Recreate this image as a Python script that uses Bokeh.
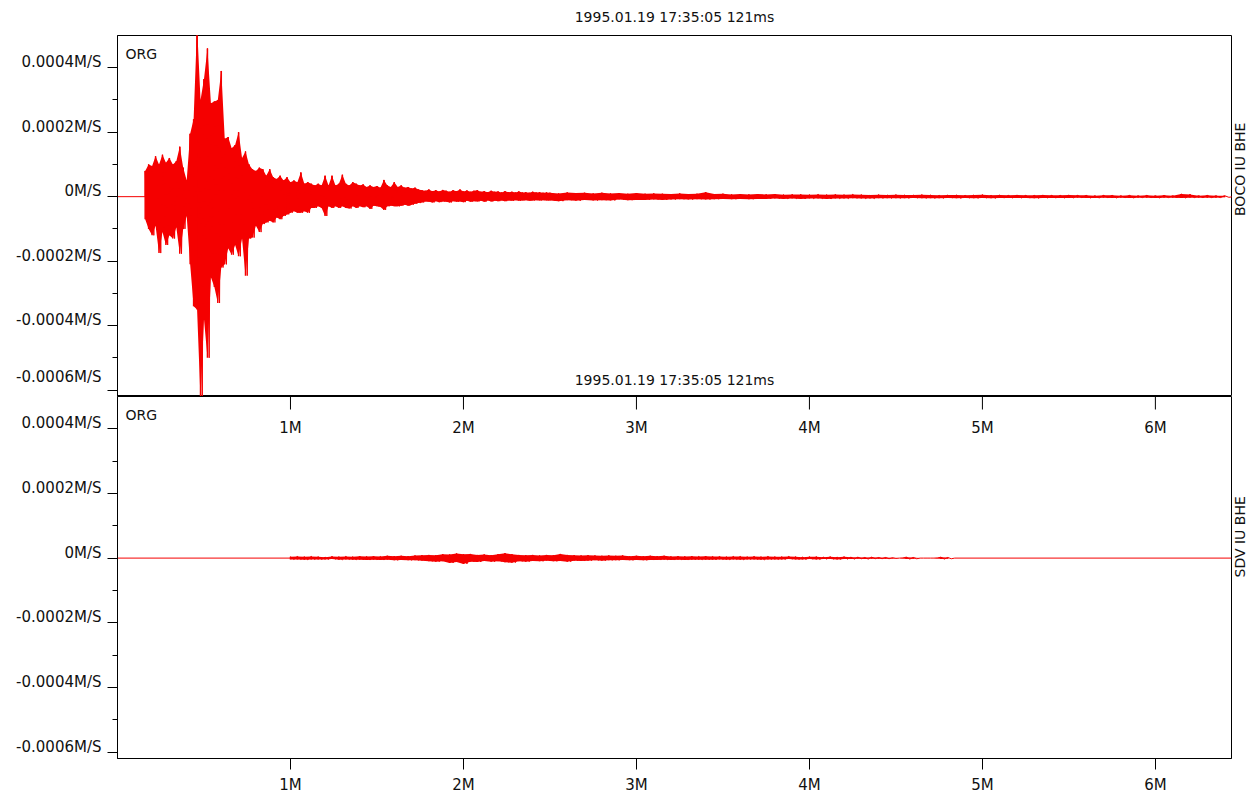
import numpy as np
from math import pi
from bokeh.plotting import figure
from bokeh.layouts import column
from bokeh.models import (Range1d, FixedTicker, Label, LinearAxis,
                          CustomJSTickFormatter, ColumnDataSource)
from bokeh.core.properties import value
from bokeh.embed import file_html
from bokeh.resources import INLINE

# ---------------- texts ----------------
start_time = "1995.01.19 17:35:05 121ms"
channels = ["BOCO IU BHE", "SDV IU BHE"]
proc_tag = "ORG"

# ---------------- axes ----------------
x_ticks = [1, 2, 3, 4, 5, 6]
x_tick_labels = ["1M", "2M", "3M", "4M", "5M", "6M"]
y_ticks = [-6e-4, -4e-4, -2e-4, 0.0, 2e-4, 4e-4]
y_tick_labels = ["-0.0006M/S", "-0.0004M/S", "-0.0002M/S", "0M/S", "0.0002M/S", "0.0004M/S"]
y_minor = [-6e-4, -5e-4, -4e-4, -3e-4, -2e-4, -1e-4, 0.0, 1e-4, 2e-4, 3e-4, 4e-4]
x_span = (0.0, 6.44)          # minutes
y_span = (-6.2e-4, 5.0e-4)    # M/S
amp_unit = 1e-4               # amplitudes below are given in 1e-4 M/S

# ---------------- BOCO IU BHE: peak envelope read per sample ----------------
boco_a_t0, boco_a_dt = 0.16, 0.02
boco_a_hi = [0.8, 1.0, 0.95, 1.25, 1.0, 1.3, 1.05, 1.2, 1.0, 1.1,
             1.55, 0.9, 0.5, 1.95, 2.4, 5.3, 3.0, 3.65, 4.6, 2.9,
             2.95, 3.0, 3.9, 1.8, 1.85, 1.5, 1.6, 2.0, 1.2, 1.4,
             1.0, 0.85, 0.8, 0.9, 0.85, 0.65, 0.85, 0.6, 0.55, 0.65,
             0.5, 0.6, 0.45, 0.5, 0.45, 0.75, 0.4, 0.45, 0.4, 0.35,
             0.4, 0.35, 0.65, 0.35, 0.65, 0.35, 0.4, 0.68, 0.4, 0.35,
             0.45, 0.4, 0.35, 0.38, 0.3, 0.35, 0.3, 0.33, 0.28, 0.52,
             0.35, 0.3, 0.45, 0.3, 0.35, 0.28, 0.3, 0.25, 0.28, 0.22,
             0.2, 0.18, 0.22, 0.17, 0.2, 0.16, 0.21, 0.18, 0.15, 0.2,
             0.17, 0.22, 0.16, 0.19, 0.15, 0.18, 0.2, 0.15, 0.17, 0.14,
             0.18, 0.15, 0.16, 0.13, 0.17, 0.14, 0.15, 0.13, 0.16, 0.13,
             0.14, 0.12, 0.15, 0.13, 0.14, 0.12, 0.13]
boco_a_lo = [-0.7, -1.0, -1.2, -0.9, -1.75, -1.1, -1.5, -1.2, -1.3, -0.95,
             -1.77, -1.0, -0.6, -2.1, -3.4, -3.5, -6.3, -3.8, -5.0, -2.5,
             -2.8, -3.3, -2.2, -2.1, -1.6, -1.8, -1.5, -1.85, -1.3, -2.45,
             -1.3, -1.27, -0.9, -1.1, -0.85, -0.8, -0.75, -0.8, -0.65, -0.7,
             -0.6, -0.55, -0.5, -0.45, -0.5, -0.5, -0.45, -0.5, -0.35, -0.35,
             -0.3, -0.35, -0.6, -0.3, -0.35, -0.3, -0.35, -0.3, -0.35, -0.37,
             -0.3, -0.35, -0.3, -0.33, -0.3, -0.38, -0.28, -0.3, -0.32, -0.41,
             -0.3, -0.28, -0.3, -0.3, -0.28, -0.25, -0.28, -0.25, -0.22, -0.2,
             -0.18, -0.15, -0.16, -0.18, -0.14, -0.17, -0.15, -0.16, -0.18, -0.14,
             -0.16, -0.15, -0.17, -0.13, -0.16, -0.14, -0.15, -0.13, -0.16, -0.12,
             -0.15, -0.13, -0.14, -0.12, -0.14, -0.12, -0.13, -0.11, -0.13, -0.12,
             -0.11, -0.13, -0.12, -0.11, -0.12, -0.11, -0.12]
boco_b_t0, boco_b_dt = 2.50, 0.05
boco_b_hi = [0.12, 0.1, 0.13, 0.11, 0.12, 0.1, 0.12, 0.1, 0.11, 0.09,
             0.11, 0.09, 0.1, 0.09, 0.08, 0.1, 0.08, 0.09, 0.14, 0.08,
             0.09, 0.07, 0.08, 0.07, 0.08, 0.07, 0.08, 0.06, 0.07, 0.07,
             0.06, 0.07, 0.06, 0.07, 0.06, 0.07, 0.06, 0.05, 0.06, 0.05,
             0.06, 0.05, 0.05, 0.06, 0.05, 0.04, 0.05, 0.05, 0.04, 0.05,
             0.06, 0.04, 0.05, 0.04, 0.05, 0.04, 0.04, 0.05, 0.04, 0.04,
             0.05, 0.04, 0.04, 0.03, 0.04, 0.04, 0.03, 0.04, 0.03, 0.04,
             0.03, 0.04, 0.03, 0.08, 0.07, 0.03, 0.04, 0.03, 0.03]
boco_b_lo = [-0.12, -0.14, -0.11, -0.13, -0.1, -0.12, -0.11, -0.12, -0.09, -0.11,
             -0.1, -0.1, -0.09, -0.1, -0.09, -0.08, -0.09, -0.08, -0.09, -0.08,
             -0.07, -0.08, -0.07, -0.08, -0.07, -0.07, -0.06, -0.07, -0.06, -0.07,
             -0.06, -0.06, -0.07, -0.06, -0.06, -0.05, -0.06, -0.06, -0.05, -0.05,
             -0.05, -0.05, -0.04, -0.05, -0.05, -0.05, -0.04, -0.05, -0.04, -0.05,
             -0.04, -0.05, -0.04, -0.04, -0.04, -0.04, -0.05, -0.04, -0.04, -0.04,
             -0.04, -0.03, -0.04, -0.04, -0.03, -0.04, -0.03, -0.04, -0.03, -0.03,
             -0.04, -0.03, -0.03, -0.04, -0.03, -0.03, -0.03, -0.03, -0.02]

# ---------------- SDV IU BHE ----------------
sdv_t0, sdv_dt = 1.00, 0.04
sdv_hi = [0.04, 0.05, 0.04, 0.05, 0.04, 0.03, 0.05, 0.04, 0.05, 0.04,
          0.06, 0.05, 0.06, 0.05, 0.07, 0.06, 0.07, 0.06, 0.08, 0.09,
          0.1, 0.09, 0.12, 0.11, 0.14, 0.12, 0.13, 0.1, 0.11, 0.09,
          0.12, 0.15, 0.12, 0.1, 0.09, 0.1, 0.08, 0.1, 0.09, 0.13,
          0.1, 0.09, 0.08, 0.09, 0.08, 0.07, 0.08, 0.07, 0.08, 0.06,
          0.07, 0.06, 0.07, 0.06, 0.07, 0.05, 0.06, 0.05, 0.06, 0.05,
          0.06, 0.05, 0.05, 0.04, 0.05, 0.05, 0.04, 0.05, 0.04, 0.05,
          0.04, 0.04, 0.05, 0.04, 0.03, 0.04, 0.04, 0.03, 0.04, 0.03,
          0.04, 0.03, 0.03, 0.02, 0.03, 0.02, 0.02, 0.01, 0.0, 0.03,
          0.02, 0.0, 0.0, 0.0, 0.03, 0.02]
sdv_lo = [-0.04, -0.04, -0.05, -0.04, -0.04, -0.04, -0.03, -0.05, -0.04, -0.05,
          -0.05, -0.06, -0.05, -0.06, -0.05, -0.07, -0.06, -0.07, -0.07, -0.08,
          -0.1, -0.11, -0.1, -0.15, -0.12, -0.18, -0.11, -0.12, -0.09, -0.11,
          -0.1, -0.13, -0.14, -0.1, -0.11, -0.09, -0.1, -0.08, -0.1, -0.09,
          -0.11, -0.08, -0.09, -0.08, -0.07, -0.08, -0.07, -0.07, -0.06, -0.07,
          -0.06, -0.07, -0.06, -0.06, -0.05, -0.06, -0.05, -0.06, -0.05, -0.05,
          -0.05, -0.05, -0.04, -0.05, -0.04, -0.05, -0.04, -0.04, -0.05, -0.04,
          -0.04, -0.04, -0.03, -0.04, -0.04, -0.03, -0.04, -0.03, -0.03, -0.04,
          -0.03, -0.03, -0.02, -0.03, -0.02, -0.02, -0.02, -0.01, 0.0, -0.03,
          -0.02, 0.0, 0.0, 0.0, -0.03, -0.02]

# ---------------- helpers ----------------
FONT = "DejaVu Sans"
TXT = "#111111"
TRACE = "#f50000"


def samples(segments):
    """Sample times with their read peak and trough values (M/S), segments joined."""
    t, hi, lo, half = [], [], [], []
    for t0, dt, h, l in segments:
        for i in range(len(h)):
            t.append(t0 + i * dt)
            hi.append(h[i] * amp_unit)
            lo.append(l[i] * amp_unit)
            half.append(dt / 2)
    return t, hi, lo, half


def draw_trace(p, segments):
    t, hi, lo, half = samples(segments)
    # solid body between troughs and peaks, plus a bar per sample
    p.varea(x=t, y1=lo, y2=hi, fill_color=TRACE, fill_alpha=1.0)
    p.segment(x0=t, x1=t, y0=lo, y1=hi, line_color=TRACE, line_width=1.5)
    # the wiggle: flat before the onset, peak then trough per sample, flat after
    xs, ys = [x_span[0], t[0]], [0.0, 0.0]
    for ti, h, l, d in zip(t, hi, lo, half):
        xs += [ti, ti + d]
        ys += [h, l]
    xs += [t[-1] + 2 * half[-1], x_span[1]]
    ys += [0.0, 0.0]
    p.line(xs, ys, line_color=TRACE, line_width=1.0)


y_fmt = CustomJSTickFormatter(args=dict(vals=y_ticks, labs=y_tick_labels), code="""
    for (let i = 0; i < vals.length; i++) { if (Math.abs(vals[i] - tick) < 1e-12) return labs[i] + "\\n"; }
    return "";
""")
x_fmt = CustomJSTickFormatter(args=dict(vals=x_ticks, labs=x_tick_labels), code="""
    for (let i = 0; i < vals.length; i++) { if (Math.abs(vals[i] - tick) < 1e-9) return labs[i]; }
    return "";
""")


def style_y(ax):
    ax.ticker = FixedTicker(ticks=y_ticks, minor_ticks=y_minor)
    ax.formatter = y_fmt
    ax.major_tick_out = 10
    ax.major_tick_in = 0
    ax.minor_tick_out = 5
    ax.minor_tick_in = 0
    ax.major_tick_line_color = "black"
    ax.minor_tick_line_color = "black"
    ax.axis_line_color = "black"
    ax.major_label_standoff = 6
    ax.major_label_text_font = FONT
    ax.major_label_text_font_size = "15px"
    ax.major_label_text_color = TXT
    ax.major_label_text_line_height = 0.6


def text_axis(label, standoff):
    """An axis without ticks that only carries a caption."""
    return LinearAxis(ticker=FixedTicker(ticks=[], minor_ticks=[]), axis_label=label,
                      axis_line_color=None, major_tick_out=0, major_tick_in=0,
                      major_label_standoff=0, axis_label_standoff=standoff,
                      axis_label_text_font=FONT, axis_label_text_font_size="14px",
                      axis_label_text_font_style="normal", axis_label_text_color=TXT)


def base_fig(height, top, bottom, name):
    p = figure(width=1258, height=height, x_range=xr, title=None,
               y_range=Range1d(*y_span), output_backend="svg",
               toolbar_location=None, x_axis_location=None,
               min_border_left=117, min_border_right=27,
               min_border_top=top, min_border_bottom=bottom)
    p.grid.visible = False
    p.outline_line_color = "black"
    p.outline_line_alpha = 1.0
    p.outline_line_width = 1
    p.background_fill_color = "white"
    p.border_fill_color = "white"
    style_y(p.yaxis[0])
    # channel name on the right edge
    side = text_axis(name, 8)
    if "axis_label_orientation" in LinearAxis.properties():
        side.axis_label_orientation = pi / 2
    p.add_layout(side, "right")
    # processing tag, top-left inside the frame
    p.add_layout(Label(x=x_span[0], y=y_span[1], x_offset=8, y_offset=-18,
                       text=proc_tag, text_align="left", text_baseline="middle",
                       text_font=FONT, text_font_size="14px", text_color=TXT))
    return p


xr = Range1d(*x_span)

# ---------------- top panel ----------------
p1 = base_fig(396, 35, 0, channels[0])
p1.add_layout(text_axis(start_time, 11), "above")

draw_trace(p1, [(boco_a_t0, boco_a_dt, boco_a_hi, boco_a_lo),
                (boco_b_t0, boco_b_dt, boco_b_hi, boco_b_lo)])
# time stamp of the lower trace sits just above the shared border
p1.add_layout(Label(x=(x_span[0] + x_span[1]) / 2, y=y_span[0], y_offset=17,
                    text=start_time, text_align="center", text_baseline="middle",
                    text_font=FONT, text_font_size="14px", text_color=TXT))

# ---------------- bottom panel ----------------
p2 = base_fig(402, 0, 40, channels[1])
draw_trace(p2, [(sdv_t0, sdv_dt, sdv_hi, sdv_lo)])

# time axis of the upper trace: ticks and labels hang into the lower panel
tick_src = ColumnDataSource(dict(x=x_ticks, y=[y_span[1]] * len(x_ticks), t=x_tick_labels))
p2.ray(x="x", y="y", source=tick_src, length=13, length_units="screen",
       angle=-pi / 2, line_color="black", line_width=1)
p2.text(x="x", y="y", text="t", source=tick_src, y_offset=31,
        text_align="center", text_baseline="middle",
        text_font=value(FONT), text_font_size=value("15px"), text_color=TXT)

bottom_axis = LinearAxis(ticker=FixedTicker(ticks=x_ticks, minor_ticks=[]),
                         formatter=x_fmt, major_tick_out=11, major_tick_in=0,
                         major_tick_line_color="black", axis_line_color="black",
                         major_label_standoff=6, major_label_text_font=FONT,
                         major_label_text_font_size="15px",
                         major_label_text_color=TXT)
p2.add_layout(bottom_axis, "below")

layout = column(p1, p2, spacing=0)
open("out.html", "w").write(file_html(layout, INLINE))
